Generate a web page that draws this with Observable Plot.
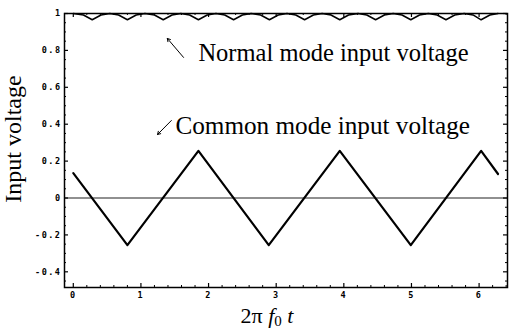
<!DOCTYPE html>
<html>
<head>
<meta charset="utf-8">
<script src="https://cdn.jsdelivr.net/npm/d3@7"></script>
<script src="https://cdn.jsdelivr.net/npm/@observablehq/plot@0.6"></script>
<style>
  html, body { margin: 0; padding: 0; background: #fff; }
  svg g[font-family="DejaVu Sans Mono"] text { letter-spacing: 1.5px; }
</style>
</head>
<body>
<div id="chart"></div>
<script>
// Common mode input voltage (triangle wave), vertices
const cmX = [0, 0.80, 1.85, 2.89, 3.94, 4.99, 6.03, 6.28];
const cmY = [0.135, -0.255, 0.255, -0.255, 0.255, -0.255, 0.255, 0.13];

// Normal mode input voltage (small ripple just below 1)
const nmX = [0, 0.15,
  0.28, 0.41, 0.54, 0.67,
  0.80, 0.93, 1.06, 1.20,
  1.33, 1.46, 1.59, 1.72,
  1.85, 1.98, 2.11, 2.24,
  2.37, 2.50, 2.63, 2.77,
  2.90, 3.03, 3.16, 3.29,
  3.42, 3.55, 3.68, 3.81,
  3.94, 4.07, 4.21, 4.34,
  4.47, 4.60, 4.73, 4.86,
  4.99, 5.12, 5.25, 5.38,
  5.51, 5.64, 5.78, 5.91,
  6.03, 6.16, 6.28];
const nmY = [1.0, 0.992,
  0.966, 0.992, 1.0, 0.992,
  0.966, 0.992, 1.0, 0.992,
  0.966, 0.992, 1.0, 0.992,
  0.966, 0.992, 1.0, 0.992,
  0.966, 0.992, 1.0, 0.992,
  0.966, 0.992, 1.0, 0.992,
  0.966, 0.992, 1.0, 0.992,
  0.966, 0.992, 1.0, 0.992,
  0.966, 0.992, 1.0, 0.992,
  0.966, 0.992, 1.0, 0.992,
  0.966, 0.992, 1.0, 0.992,
  0.966, 0.992, 1.0];

// Ticks
const xTicks = [0, 1, 2, 3, 4, 5, 6];
const xTickLabels = ["0", "1", "2", "3", "4", "5", "6"];
const xMinor = [0.2, 0.4, 0.6, 0.8, 1.2, 1.4, 1.6, 1.8, 2.2, 2.4, 2.6, 2.8, 3.2, 3.4, 3.6, 3.8,
  4.2, 4.4, 4.6, 4.8, 5.2, 5.4, 5.6, 5.8, 6.2, 6.4];
const yTicks = [-0.4, -0.2, 0, 0.2, 0.4, 0.6, 0.8, 1];
const yTickLabels = ["-0.4", "-0.2", "0", "0.2", "0.4", "0.6", "0.8", "1"];
const yMinor = [-0.45, -0.35, -0.3, -0.25, -0.15, -0.1, -0.05, 0.05, 0.1, 0.15, 0.25, 0.3, 0.35,
  0.45, 0.5, 0.55, 0.65, 0.7, 0.75, 0.85, 0.9, 0.95];

// Annotations
const noteText = ["Normal mode input voltage", "Common mode input voltage"];
const noteX = [1.85, 1.51];
const noteY = [0.745, 0.347];
const noteSize = [24.5, 25.2];
const arrowX1 = [1.63, 1.45];
const arrowY1 = [0.762, 0.42];
const arrowX2 = [1.39, 1.245];
const arrowY2 = [0.865, 0.344];

const yLabel = "Input voltage";

const W = 509, H = 331;
const mL = 64, mR = 2, mT = 13, mB = 44;
const iw = W - mL - mR, ih = H - mT - mB;

const cm = cmX.map((x, i) => ({x, y: cmY[i]}));
const nm = nmX.map((x, i) => ({x, y: nmY[i]}));
const arrows = arrowX1.map((x1, i) => ({x1, y1: arrowY1[i], x2: arrowX2[i], y2: arrowY2[i]}));
const xt = xTicks.map((v, i) => ({v, s: xTickLabels[i]}));
const yt = yTicks.map((v, i) => ({v, s: yTickLabels[i]}));

const tickFont = {fontFamily: "DejaVu Sans Mono", fontSize: 8.5, fontWeight: "bold"};
const serif = "Liberation Serif";

const svg = Plot.plot({
  width: W, height: H,
  marginLeft: mL, marginRight: mR, marginTop: mT, marginBottom: mB,
  x: {domain: [-0.13, 6.42], axis: null},
  y: {domain: [-0.485, 1.0], axis: null},
  style: {background: "#fff", color: "#000", fontFamily: serif, overflow: "visible"},
  marks: [
    Plot.ruleY([0], {stroke: "#222", strokeWidth: 1.2}),
    // major ticks on all sides
    Plot.tickX(xTicks, {x: d => d, insetTop: ih - 4, strokeWidth: 1.2}),
    Plot.tickX(xTicks, {x: d => d, insetBottom: ih - 4, strokeWidth: 1.2}),
    Plot.tickX(xMinor, {x: d => d, insetTop: ih - 2, strokeWidth: 1}),
    Plot.tickX(xMinor, {x: d => d, insetBottom: ih - 2, strokeWidth: 1}),
    Plot.tickY(yTicks, {y: d => d, insetRight: iw - 4, strokeWidth: 1.2}),
    Plot.tickY(yTicks, {y: d => d, insetLeft: iw - 4, strokeWidth: 1.2}),
    Plot.tickY(yMinor, {y: d => d, insetRight: iw - 2, strokeWidth: 1}),
    Plot.tickY(yMinor, {y: d => d, insetLeft: iw - 2, strokeWidth: 1}),
    // tick labels
    Plot.text(xt, {x: "v", text: "s", frameAnchor: "bottom", dy: 8, lineAnchor: "middle", ...tickFont}),
    Plot.text(yt, {y: "v", text: "s", frameAnchor: "left", dx: -3, textAnchor: "end", lineAnchor: "middle", ...tickFont}),
    // data
    Plot.line(nm, {x: "x", y: "y", stroke: "#000", strokeWidth: 1.5}),
    Plot.line(cm, {x: "x", y: "y", stroke: "#000", strokeWidth: 2.2}),
    // annotations
    Plot.arrow(arrows, {x1: "x1", y1: "y1", x2: "x2", y2: "y2", stroke: "#000", strokeWidth: 1, headLength: 5}),
    Plot.text([0], {x: noteX[0], y: noteY[0], text: [noteText[0]], textAnchor: "start", lineAnchor: "bottom",
      fontFamily: serif, fontSize: noteSize[0], fill: "#000"}),
    Plot.text([0], {x: noteX[1], y: noteY[1], text: [noteText[1]], textAnchor: "start", lineAnchor: "bottom",
      fontFamily: serif, fontSize: noteSize[1], fill: "#000"}),
    Plot.frame({stroke: "#000", strokeWidth: 1.5})
  ]
});

// y-axis label
d3.select(svg).append("text")
  .attr("transform", "translate(21,139) rotate(-90)")
  .attr("text-anchor", "middle")
  .attr("font-family", serif)
  .attr("font-size", 24)
  .attr("fill", "#000")
  .text(yLabel);

// x-axis label with italic and subscript
const g = d3.select(svg).append("text")
  .attr("x", 267).attr("y", 323)
  .attr("text-anchor", "middle")
  .attr("font-family", serif)
  .attr("font-size", 22)
  .attr("fill", "#000");
g.append("tspan").text("2π ");
g.append("tspan").attr("font-style", "italic").text("f");
g.append("tspan").attr("font-size", 15).attr("dy", 3).text("0");
g.append("tspan").attr("dy", -3).text(" ");
g.append("tspan").attr("font-style", "italic").text("t");

document.getElementById("chart").appendChild(svg);
</script>
</body>
</html>
